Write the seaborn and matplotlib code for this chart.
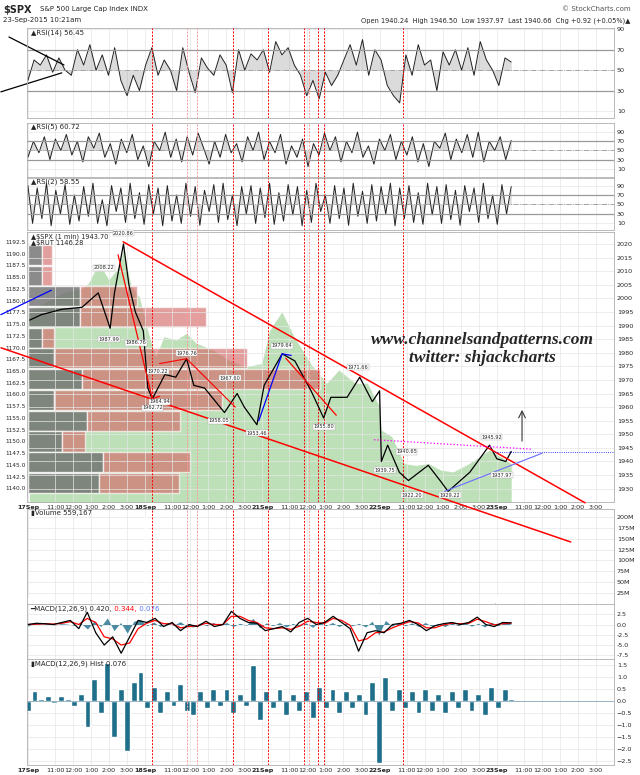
import numpy as np
import matplotlib
matplotlib.use("Agg")
import matplotlib.pyplot as plt
import seaborn as sns
import pandas as pd

sns.set_theme(style="white")
plt.rcParams['font.family'] = ['DejaVu Sans']

# ---------------- data ----------------
price_hr = [0.1,0.75,1.9,3.0,3.9,4.56,4.8,5.3,5.6,5.96,6.4,6.65,6.9,7.6,8.2,8.8,9.2,9.8,10.9,11.6,12.0,12.7,
            13.1,14.1,14.8,15.7,16.4,16.8,17.7,18.4,19.1,19.5,19.6,19.95,20.6,21.1,22.2,22.9,23.3,24.5,25.6,26.0,26.5,26.8]
price_spx = [1992,1994,1996,1996.7,2002,1989,2002,2020,2005,1995,1988,1967,1963,1972,1971,1977.8,1968,1967,1958,1965,1960,1953.5,
             1968,1979.6,1977,1966,1956,1963.6,1963.6,1971,1962,1966,1940,1946,1936,1933,1938.6,1932.6,1929,1936,1946,1941,1940,1943.7]

rut_hr = [0.09,1.22,1.89,3.02,3.36,3.93,4.49,5.05,5.28,5.73,6.18,6.63,7.09,7.54,8.21,8.78,9.34,10.25,11.15,12.05,12.96,13.41,
          14.08,14.76,15.67,16.57,17.24,18.15,18.82,19.5,19.6,20.18,20.86,21.53,22.21,22.89,23.57,24.47,25.6,26.8]
rut_val = [1178.0,1180.1,1181.6,1182.6,1183.7,1188.0,1184.4,1187.2,1190.8,1183.0,1180.8,1173.7,1168.0,1172.3,1171.6,1173.0,1170.9,
           1169.5,1167.3,1165.9,1166.6,1173.7,1177.6,1172.3,1166.6,1162.4,1165.2,1162.4,1162.4,1157.4,1152.4,1151.0,1145.3,1144.9,
           1145.3,1143.9,1143.5,1145.3,1148.2,1145.3]

vbp_top = [1191.9,1187.5,1183.1,1178.7,1174.3,1169.9,1165.5,1161.0,1156.6,1152.2,1147.8,1143.4]
vbp_down = [7.6,7.6,29.0,29.0,7.6,14.4,30.2,14.4,32.5,18.9,41.5,39.3]
vbp_up = [5.7,5.7,31.7,70.0,6.8,107.2,131.6,93.0,51.9,12.5,48.5,44.4]

rsi14 = [40,60,55,65,48,62,50,45,70,55,75,50,65,45,72,40,25,45,30,55,72,45,60,50,30,72,48,28,62,52,45,65,55,28,70,50,66,60,70,48,
         78,65,72,55,45,25,40,22,48,35,45,60,75,55,80,45,70,60,35,25,18,65,45,75,55,60,30,68,55,70,50,72,45,78,60,50,35,62,58]
rsi5 = [35,70,45,80,30,75,50,85,40,70,25,80,55,88,35,65,20,75,45,85,30,60,15,70,50,90,35,75,25,80,40,88,55,20,70,35,85,45,65,
        25,80,50,90,30,70,45,85,20,60,35,75,15,65,40,88,50,80,25,70,45,90,35,60,20,75,50,85,30,70,40,80,25,65,15,70,55,88,30,
        75,45,85,35,90,25,70,50,80,30,72]
rsi2 = [90,10,85,20,95,5,80,30,92,8,70,15,88,25,95,10,60,5,90,35,85,12,95,20,75,8,92,30,85,5,90,15,70,10,95,25,88,6,80,35,
        92,12,95,18,70,5,88,30,90,10,85,22,95,8,75,15,92,28,88,5,80,12,95,35,70,10,90,20,85,6,95,25,78,10,92,15,88,30,95,5,
        85,20,90,12,75,8,95,28,88,10,92,18,80,6,90,35,85,12,95,20,70,8,92,30,88]

vol_hr = [0.05,2,4,5.5,6.4,6.5,6.6,8,10,12,12.9,13.0,13.1,15,17,19.4,19.5,19.6,22,24,25.9,26.0,26.1,26.8]
vol_m = [15,2,3,4,8,200,12,3,2,2,6,45,8,2,2,4,20,6,2,2,5,18,4,2]

macd_line = [0,0.3,0.2,0,0.5,1,-1,3,-2,-5,-3,-7,-3,1,0.5,1.5,-0.5,0.5,-1.5,0,-0.5,0.8,-0.5,0,3.2,1.5,0.5,0.3,-1.5,-1,-0.5,
             -1.8,0.5,1.5,0,0.5,2,0.5,-1,-6.5,-2,-1.5,-2,0,0.3,1,0,-1.5,-0.3,0.2,0.5,0,0.5,1.8,0,-0.5,0.5,0.4]
macd_sig = [0,0.1,0.2,0.1,0.3,0.7,0,1.5,0.5,-3,-3.5,-5,-4.5,-1,0.3,1,0.2,0.2,-0.8,-0.5,-0.3,0.3,0,0,2,2,1,0.5,-0.8,-1,-0.8,
            -1.2,-0.4,0.8,0.5,0.3,1.5,1,-0.2,-4,-3.5,-2,-1.8,-0.8,0,0.7,0.4,-0.8,-0.8,-0.1,0.3,0.2,0.3,1.3,0.7,-0.1,0.2,0.34]
hist = [-0.4,0.4,0.1,0.2,-0.1,0.2,0.1,-0.2,0.3,-1.1,0.9,-0.5,1.6,-1.5,0.5,-2.1,0.8,1.2,-0.3,0.6,-0.5,0.4,-0.2,0.7,-0.4,
        -0.6,0.4,-0.3,0.5,-0.2,0.5,-0.5,0.3,-0.2,1.5,-0.8,0.4,-0.3,0.5,-0.6,0.3,-0.4,0.4,-0.7,0.6,-0.3,0.5,-0.5,0.4,-0.3,
        0.3,-0.6,0.8,-2.6,1.0,-0.4,0.5,-0.3,0.4,-0.5,0.5,-0.4,0.3,-0.5,0.4,-0.3,0.5,-0.4,0.3,-0.6,0.6,-0.3,0.5,0.1]

vlines = [6.9,8.8,9.4,11.4,13.3,15.3,15.6,16.1,16.4,20.8]
light_vlines = [8.8,9.4,15.6]

hilo_hr = [5.3,4.2,4.5,6.0,6.9,7.2,8.8,7.3,11.2,10.6,12.7,14.1,16.4,18.3,19.8,21.0,21.3,23.4,25.7,26.3]
hilo_val = [2020.86,2008.22,1987.99,1986.76,1962.72,1970.22,1976.76,1964.94,1967.60,1958.05,1953.46,1979.64,1955.80,1971.66,
            1939.75,1940.65,1922.20,1929.22,1945.92,1937.97]
hilo_dy = [3,3,-3,-3,-3,3,3,-3,3,-3,-3,3,-3,3,-3,3,-3,-3,3,-3]

day_labels = ["17Sep", "18Sep", "21Sep", "22Sep", "23Sep"]
hour_labels = ["11:00", "12:00", "1:00", "2:00", "3:00"]

# ---------------- figure ----------------
fig = plt.figure(figsize=(6.4, 7.75), dpi=100)
L, W = 27/640, 587/640
def mk(top, bot):
    return fig.add_axes([L, 1-bot/775, W, (bot-top)/775])
ax1 = mk(28, 118); ax2 = mk(123, 177); ax3 = mk(178, 230)
axm = mk(232, 502); axv = mk(509, 604); axc = mk(604, 659); axh = mk(659, 765)
axes = [ax1, ax2, ax3, axm, axv, axc, axh]
XMAX = 32.5
tick_pos, tick_lab = [], []
for d in range(6):
    for k in range(6):
        p = d*6.5 + (0 if k == 0 else k+0.5)
        if p > XMAX: continue
        if k == 0 and d < 5:
            tick_pos.append(p); tick_lab.append(day_labels[d])
        elif k > 0:
            tick_pos.append(p); tick_lab.append(hour_labels[k-1])
for a in axes:
    a.set_xlim(-0.05, XMAX)
    a.set_xticks(tick_pos)
    a.tick_params(axis='x', length=0, labelsize=4.6, pad=2)
    a.grid(True, color='#e6e6e6', lw=0.5)
    for s in a.spines.values():
        s.set_color('#b0b0b0'); s.set_linewidth(0.6)
    for v in vlines:
        a.axvline(v, color='#ff9999' if v in light_vlines else 'red', ls=(0, (2, 1.5)), lw=0.7, zorder=5)
for a in axes:
    a.set_xticklabels([])
for a in (axm, axh):
    a.set_xticklabels(tick_lab)
    for t, lab in zip(a.get_xticklabels(), tick_lab):
        if lab in day_labels:
            t.set_fontweight('bold')

# RSI panels
def rsi_panel(a, vals, lo, hi, ticks, name):
    x = np.linspace(0, 26.8, len(vals))
    sns.lineplot(x=x, y=vals, ax=a, color='#222222', lw=0.7)
    a.fill_between(x, vals, 50, color='#888888', alpha=0.3, lw=0)
    a.set_ylim(lo, hi); a.set_yticks(ticks)
    for lv in (30, 70):
        a.axhline(lv, color='#999999', lw=0.9)
    a.axhline(50, color='#999999', lw=0.6, ls='-.')
    a.text(0.006, 0.985, name, transform=a.transAxes, fontsize=5, va='top')
rsi_panel(ax1, rsi14, 3.2, 91.3, [10, 30, 50, 70, 90], "▲RSI(14) 56.45")
rsi_panel(ax2, rsi5, -8, 110, [10, 30, 50, 70, 90], "▲RSI(5) 60.72")
rsi_panel(ax3, rsi2, -4, 106, [10, 30, 50, 70, 90], "▲RSI(2) 58.55")
ax1.plot([-1.05, 2.0], [82.5, 55.1], color='black', lw=0.9, clip_on=False)
ax1.plot([-1.5, 1.88], [28.8, 47.4], color='black', lw=0.9, clip_on=False)

# Main panel
axr = axm.twinx()
axr.set_ylim(1137.1, 1194.6)
axr.set_zorder(0); axm.set_zorder(1); axm.patch.set_visible(False)
axr.fill_between(rut_hr, rut_val, 1100, color='#a9d6a0', alpha=0.75, lw=0)
for t, dn, up in zip(vbp_top, vbp_down, vbp_up):
    axr.barh(t - 2.2, dn/10, height=4.3, left=0, color='#6e6e6e', alpha=0.8, align='center')
    axr.barh(t - 2.2, up/10, height=4.3, left=dn/10, color='#d46a6a', alpha=0.65, align='center')
axr.yaxis.tick_left()
axr.set_yticks(np.arange(1140, 1193, 2.5))
axr.set_yticklabels([f"{v:.1f}" for v in np.arange(1140, 1193, 2.5)])
axr.tick_params(axis='y', length=0, labelsize=4.2, pad=1, labelleft=True, labelright=False)
for s in axr.spines.values():
    s.set_visible(False)
axm.set_ylim(1925.1, 2024.4)
axm.set_yticks(np.arange(1930, 2021, 5))
for a in axes:
    a.yaxis.tick_right()
    a.tick_params(axis='y', length=0, labelsize=4.6, pad=2, labelright=True, labelleft=False)
sns.lineplot(x=price_hr, y=price_spx, ax=axm, color='black', lw=0.9, zorder=6)
for h, v, dy in zip(hilo_hr, hilo_val, hilo_dy):
    axm.text(h, max(v + dy, 1927.5), f"{v:.2f}", fontsize=3.6, ha='center', va='center', zorder=7,
             bbox=dict(boxstyle='square,pad=0.1', fc='white', ec='#aaaaaa', lw=0.3))
axm.plot([5.28, 30.9], [2020.8, 1924.8], color='red', lw=1.1, clip_on=False, zorder=6)
axm.plot([-1.49, 30.1], [1981.8, 1910.4], color='red', lw=1.1, clip_on=False, zorder=6)
axm.plot([5.0, 6.9, 7.3], [2016, 1963, 1964], color='red', lw=0.9, zorder=6)
axm.plot([7.3, 8.8, 11.5], [1976, 1977.8, 1960], color='red', lw=0.8, zorder=6)
axm.plot([12.8, 14.1, 14.6], [1955, 1979.6, 1979], color='blue', lw=0.9, zorder=6)
axm.plot([14.3, 17.1], [1978, 1957], color='red', lw=0.9, zorder=6)
axm.plot([-1.5, 1.3], [1994, 2003], color='blue', lw=0.9, clip_on=False, zorder=6)
axm.plot([19.2, 28.0], [1948, 1944.5], color='magenta', lw=0.9, ls=':', zorder=6)
axm.plot([25.9, XMAX], [1943.5, 1943.5], color='blue', lw=0.6, ls=':', zorder=6)
axm.plot([23.1, 28.5], [1929, 1943], color='#6a6aff', lw=0.8, zorder=6)
axm.annotate("", xy=(27.4, 1960), xytext=(27.4, 1946.5), zorder=7,
             arrowprops=dict(arrowstyle='->', color='#333333', lw=0.8))
axm.text(25.2, 1984.5, "www.channelsandpatterns.com", fontsize=12.5, ha='center', va='center',
         family='Liberation Serif', style='italic', fontweight='bold', zorder=8)
axm.text(25.2, 1978.2, "twitter: shjackcharts", fontsize=12.5, ha='center', va='center',
         family='Liberation Serif', style='italic', fontweight='bold', zorder=8)
axm.text(0.006, 0.995, "▲$SPX (1 min) 1943.70\n▲$RUT 1146.28", transform=axm.transAxes, fontsize=4.8,
         va='top', zorder=8, linespacing=1.1)

# Volume
axv.bar(vol_hr, vol_m, width=0.06, color='#b22222')
axv.set_ylim(0, 218)
axv.set_yticks([25, 50, 75, 100, 125, 150, 175, 200])
axv.set_yticklabels([f"{v}M" for v in [25, 50, 75, 100, 125, 150, 175, 200]])
axv.text(0.006, 0.985, "▮Volume 559,167", transform=axv.transAxes, fontsize=5, va='top')

# MACD
xm = np.linspace(0, 26.8, len(macd_line))
axc.fill_between(np.linspace(0, 26.8, len(hist)), hist, 0, color='#1f6f8b', alpha=0.8, lw=0)
sns.lineplot(x=xm, y=macd_sig, ax=axc, color='red', lw=0.9)
sns.lineplot(x=xm, y=macd_line, ax=axc, color='black', lw=0.9)
axc.set_ylim(-8.4, 5.0)
axc.set_yticks([-7.5, -5, -2.5, 0, 2.5])
axc.set_yticklabels(["-7.5", "-5.0", "-2.5", "0.0", "2.5"])
t1 = axc.text(0.006, 0.97, "━MACD(12,26,9) 0.420,", transform=axc.transAxes, fontsize=5, va='top')
t2 = axc.annotate(" 0.344,", xycoords=t1, xy=(1, 0), va='bottom', fontsize=5, color='red')
axc.annotate(" 0.076", xycoords=t2, xy=(1, 0), va='bottom', fontsize=5, color='#5577ff')

# Hist
xh = np.linspace(0, 26.8, len(hist))
axh.bar(xh, hist, width=26.8/len(hist)*0.9, color='#1f6f8b')
axh.axhline(0, color='#8aa8b8', lw=0.6)
axh.set_ylim(-2.67, 1.75)
axh.set_yticks([-2.5, -2, -1.5, -1, -0.5, 0, 0.5, 1, 1.5])
axh.text(0.006, 0.985, "▮MACD(12,26,9) Hist 0.076", transform=axh.transAxes, fontsize=5, va='top')

# Header
fig.text(0.005, 0.993, "$SPX", fontsize=7, fontweight='bold', va='top')
fig.text(0.062, 0.992, "S&P 500 Large Cap Index INDX", fontsize=5, va='top')
fig.text(0.005, 0.978, "23-Sep-2015 10:21am", fontsize=5, va='top')
fig.text(0.985, 0.992, "© StockCharts.com", fontsize=5, va='top', ha='right', color='#555555')
fig.text(0.985, 0.978, "Open 1940.24  High 1946.50  Low 1937.97  Last 1940.66  Chg +0.92 (+0.05%)▲",
         fontsize=4.8, va='top', ha='right')

fig.savefig("out.png", dpi=100)
